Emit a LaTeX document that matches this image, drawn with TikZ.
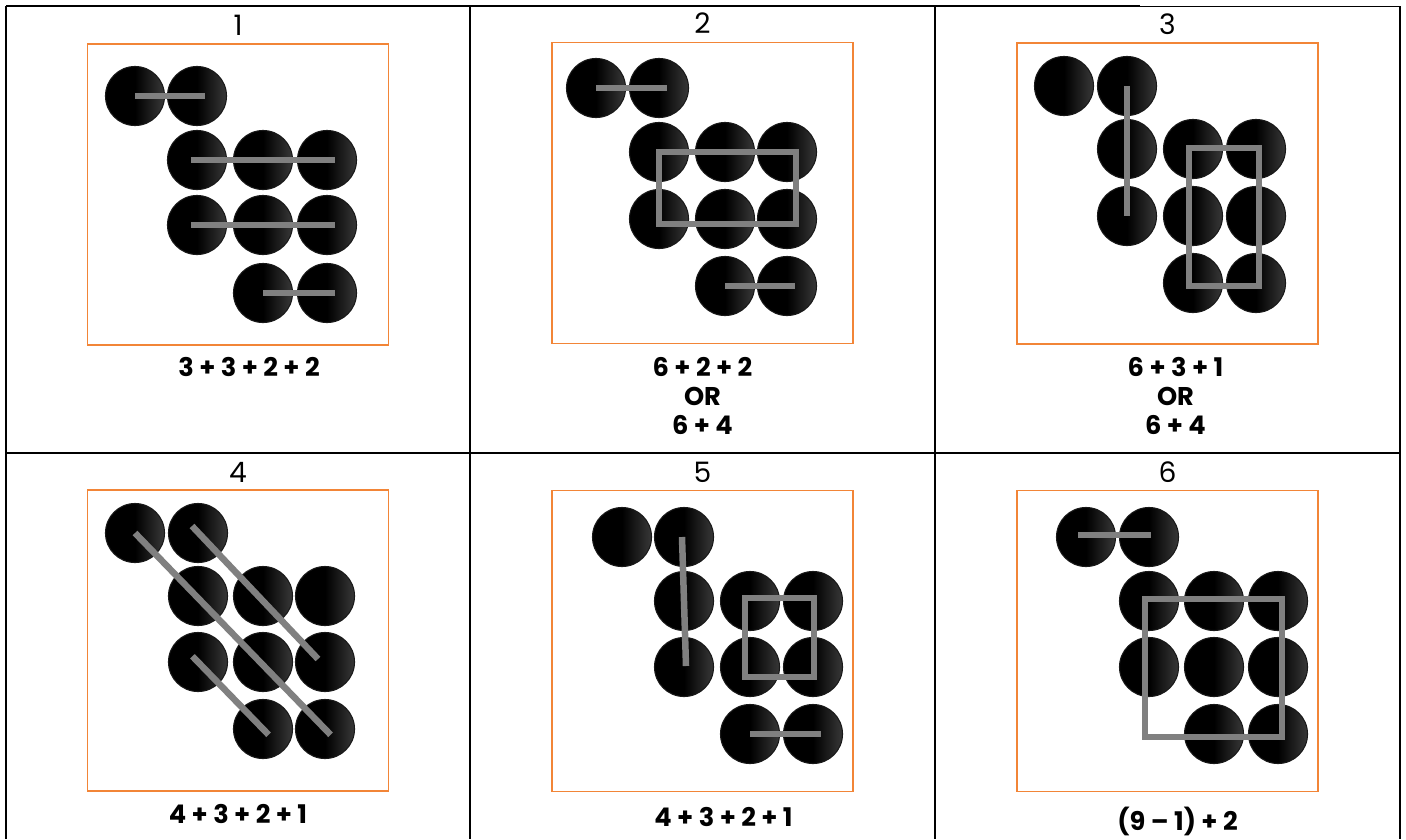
\documentclass[tikz,border=0pt]{standalone}
\usepackage{fontspec}
\setmainfont{Poppins}
\usetikzlibrary{positioning,calc}
\definecolor{frameorange}{RGB}{242,133,55}
\definecolor{bargray}{RGB}{128,128,128}
\pgfdeclarehorizontalshading{ballshade}{100bp}{color(0bp)=(black); color(50bp)=(black); color(75bp)=(black!78!white); color(100bp)=(black!78!white)}

\begin{document}
\begin{tikzpicture}[
    x=0.01cm, y=-0.01cm,
    ball/.style={circle, draw=black!90, line width=0.3pt, shading=ballshade,
        minimum size=0.59cm, inner sep=0pt},
    frame/.style={draw=frameorange, line width=0.5pt, minimum width=3.01cm,
        minimum height=3.01cm, inner sep=0pt},
    bar/.style={draw=bargray, line width=0.065cm, shorten >=-0.08cm},
    box/.style={draw=bargray, line width=0.065cm},
    num/.style={font=\fontsize{8}{9}\selectfont, inner sep=0pt},
    sum/.style={font=\bfseries\fontsize{7.3}{8.25}\selectfont, align=center, inner sep=0pt},
    grid/.style={line width=0.7pt}
]
\useasboundingbox (0,0) rectangle (1406,839);

% ---- Table ----
\draw[grid] (6,6) -- (1140,6);
\draw[line width=0.35pt] (1140,6.5) -- (1400,6.5);
\draw[grid] (6,453) -- (1400,453);
\draw[grid] (6,6) -- (6,839);
\draw[grid] (470,6) -- (470,839);
\draw[grid] (935,6) -- (935,839);
\draw[grid] (1400,6) -- (1400,839);

% ---- Panel 1 ----
\node[frame] (fr1) at (238,194.5) {};
\node[num, above=0.07cm of fr1] (n1) {1};
\node[sum, below=0.11cm of fr1, xshift=0.11cm] (s1) {3 + 3 + 2 + 2};
\node[ball] (a1) at (135,96) {};  \node[ball] (a2) at (197,96) {};
\node[ball] (a3) at (197,160) {}; \node[ball] (a4) at (263,160) {}; \node[ball] (a5) at (327,160) {};
\node[ball] (a6) at (197,225) {}; \node[ball] (a7) at (263,225) {}; \node[ball] (a8) at (327,225) {};
\node[ball] (a9) at (263,293) {}; \node[ball] (a10) at (327,293) {};
\draw[bar] (a1.center) -- (a2.center);
\draw[bar, shorten <=-0.06cm] (a3.center) -- (a5.center);
\draw[bar, shorten <=-0.06cm] (a6.center) -- (a8.center);
\draw[bar] (a9.center) -- (a10.center);

% ---- Panel 2 ----
\node[frame] (fr2) at (702.5,193) {};
\node[num, above=0.07cm of fr2] (n2) {2};
\node[sum, below=0.12cm of fr2] (s2) {6 + 2 + 2\\OR\\6 + 4};
\node[ball] (b1) at (596,88) {};  \node[ball] (b2) at (659,88) {};
\node[ball] (b3) at (659,152) {}; \node[ball] (b4) at (725,152) {}; \node[ball] (b5) at (787,152) {};
\node[ball] (b6) at (659,219) {}; \node[ball] (b7) at (725,219) {}; \node[ball] (b8) at (787,219) {};
\node[ball] (b9) at (725,286) {}; \node[ball] (b10) at (787,286) {};
\draw[bar] (b1.center) -- (b2.center);
\draw[bar] (b9.center) -- (b10.center);
\draw[box] (b3.center) rectangle ($(b8)+(9,5)$);

% ---- Panel 3 ----
\node[frame] (fr3) at (1167.5,193.5) {};
\node[num, above=0.07cm of fr3] (n3) {3};
\node[sum, below=0.12cm of fr3, xshift=0.08cm] (s3) {6 + 3 + 1\\OR\\6 + 4};
\node[ball] (c1) at (1064,86) {};  \node[ball] (c2) at (1127,86) {};
\node[ball] (c3) at (1127,149) {}; \node[ball] (c4) at (1193,149) {}; \node[ball] (c5) at (1256,149) {};
\node[ball] (c6) at (1127,216) {}; \node[ball] (c7) at (1193,216) {}; \node[ball] (c8) at (1256,216) {};
\node[ball] (c9) at (1193,283) {}; \node[ball] (c10) at (1256,283) {};
\draw[bar, shorten >=0pt] (c2.center) -- (c6.center);
\draw[box] ($(c4)+(-4,-1)$) rectangle ($(c10)+(3,3)$);

% ---- Panel 4 ----
\node[frame] (fr4) at (238,640.5) {};
\node[num, above=0.06cm of fr4] (n4) {4};
\node[sum, below=0.12cm of fr4] (s4) {4 + 3 + 2 + 1};
\node[ball] (d1) at (135,533) {};  \node[ball] (d2) at (198,533) {};
\node[ball] (d3) at (198,596) {}; \node[ball] (d4) at (263,596) {}; \node[ball] (d5) at (325,596) {};
\node[ball] (d6) at (198,662) {}; \node[ball] (d7) at (263,662) {}; \node[ball] (d8) at (325,662) {};
\node[ball] (d9) at (263,729) {}; \node[ball] (d10) at (325,729) {};
\draw[bar] (d1.center) -- (d10.center);
\draw[bar, shorten >=0pt] ($(d2)+(-6,-7)$) -- ($(d8)+(-7,-3)$);
\draw[bar, shorten <=-0.08cm] (d6.center) -- (d9.center);

% ---- Panel 5 ----
\node[frame] (fr5) at (702.5,641) {};
\node[num, above=0.06cm of fr5] (n5) {5};
\node[sum, below=0.14cm of fr5, xshift=0.21cm] (s5) {4 + 3 + 2 + 1};
\node[ball] (e1) at (622,537) {};  \node[ball] (e2) at (684,537) {};
\node[ball] (e3) at (684,601) {}; \node[ball] (e4) at (750,601) {}; \node[ball] (e5) at (813,601) {};
\node[ball] (e6) at (684,667) {}; \node[ball] (e7) at (750,667) {}; \node[ball] (e8) at (813,667) {};
\node[ball] (e9) at (750,734) {}; \node[ball] (e10) at (813,734) {};
\draw[bar, shorten >=0pt] ($(e2)+(-2,0)$) -- ($(e6)+(2,-1)$);
\draw[box] ($(e4)+(-5,-3)$) rectangle ($(e8)+(1,10)$);
\draw[bar] (e9.center) -- (e10.center);

% ---- Panel 6 ----
\node[frame] (fr6) at (1167.5,641) {};
\node[num, above=0.06cm of fr6] (n6) {6};
\node[sum, below=0.14cm of fr6, xshift=0.1cm] (s6) {(9 – 1) + 2};
\node[ball] (f1) at (1086,537) {};  \node[ball] (f2) at (1149,537) {};
\node[ball] (f3) at (1149,601) {}; \node[ball] (f4) at (1214,601) {}; \node[ball] (f5) at (1278,601) {};
\node[ball] (f6) at (1149,667) {}; \node[ball] (f7) at (1214,667) {}; \node[ball] (f8) at (1278,667) {};
\node[ball] (f9) at (1214,734) {}; \node[ball] (f10) at (1278,734) {};
\draw[bar, shorten <=-0.08cm, shorten >=-0.02cm] ($(f1)+(0,-2)$) -- ($(f2)+(0,-2)$);
\draw[box] ($(f3)+(-4,-2)$) rectangle ($(f10)+(4,3)$);
\end{tikzpicture}
\end{document}
